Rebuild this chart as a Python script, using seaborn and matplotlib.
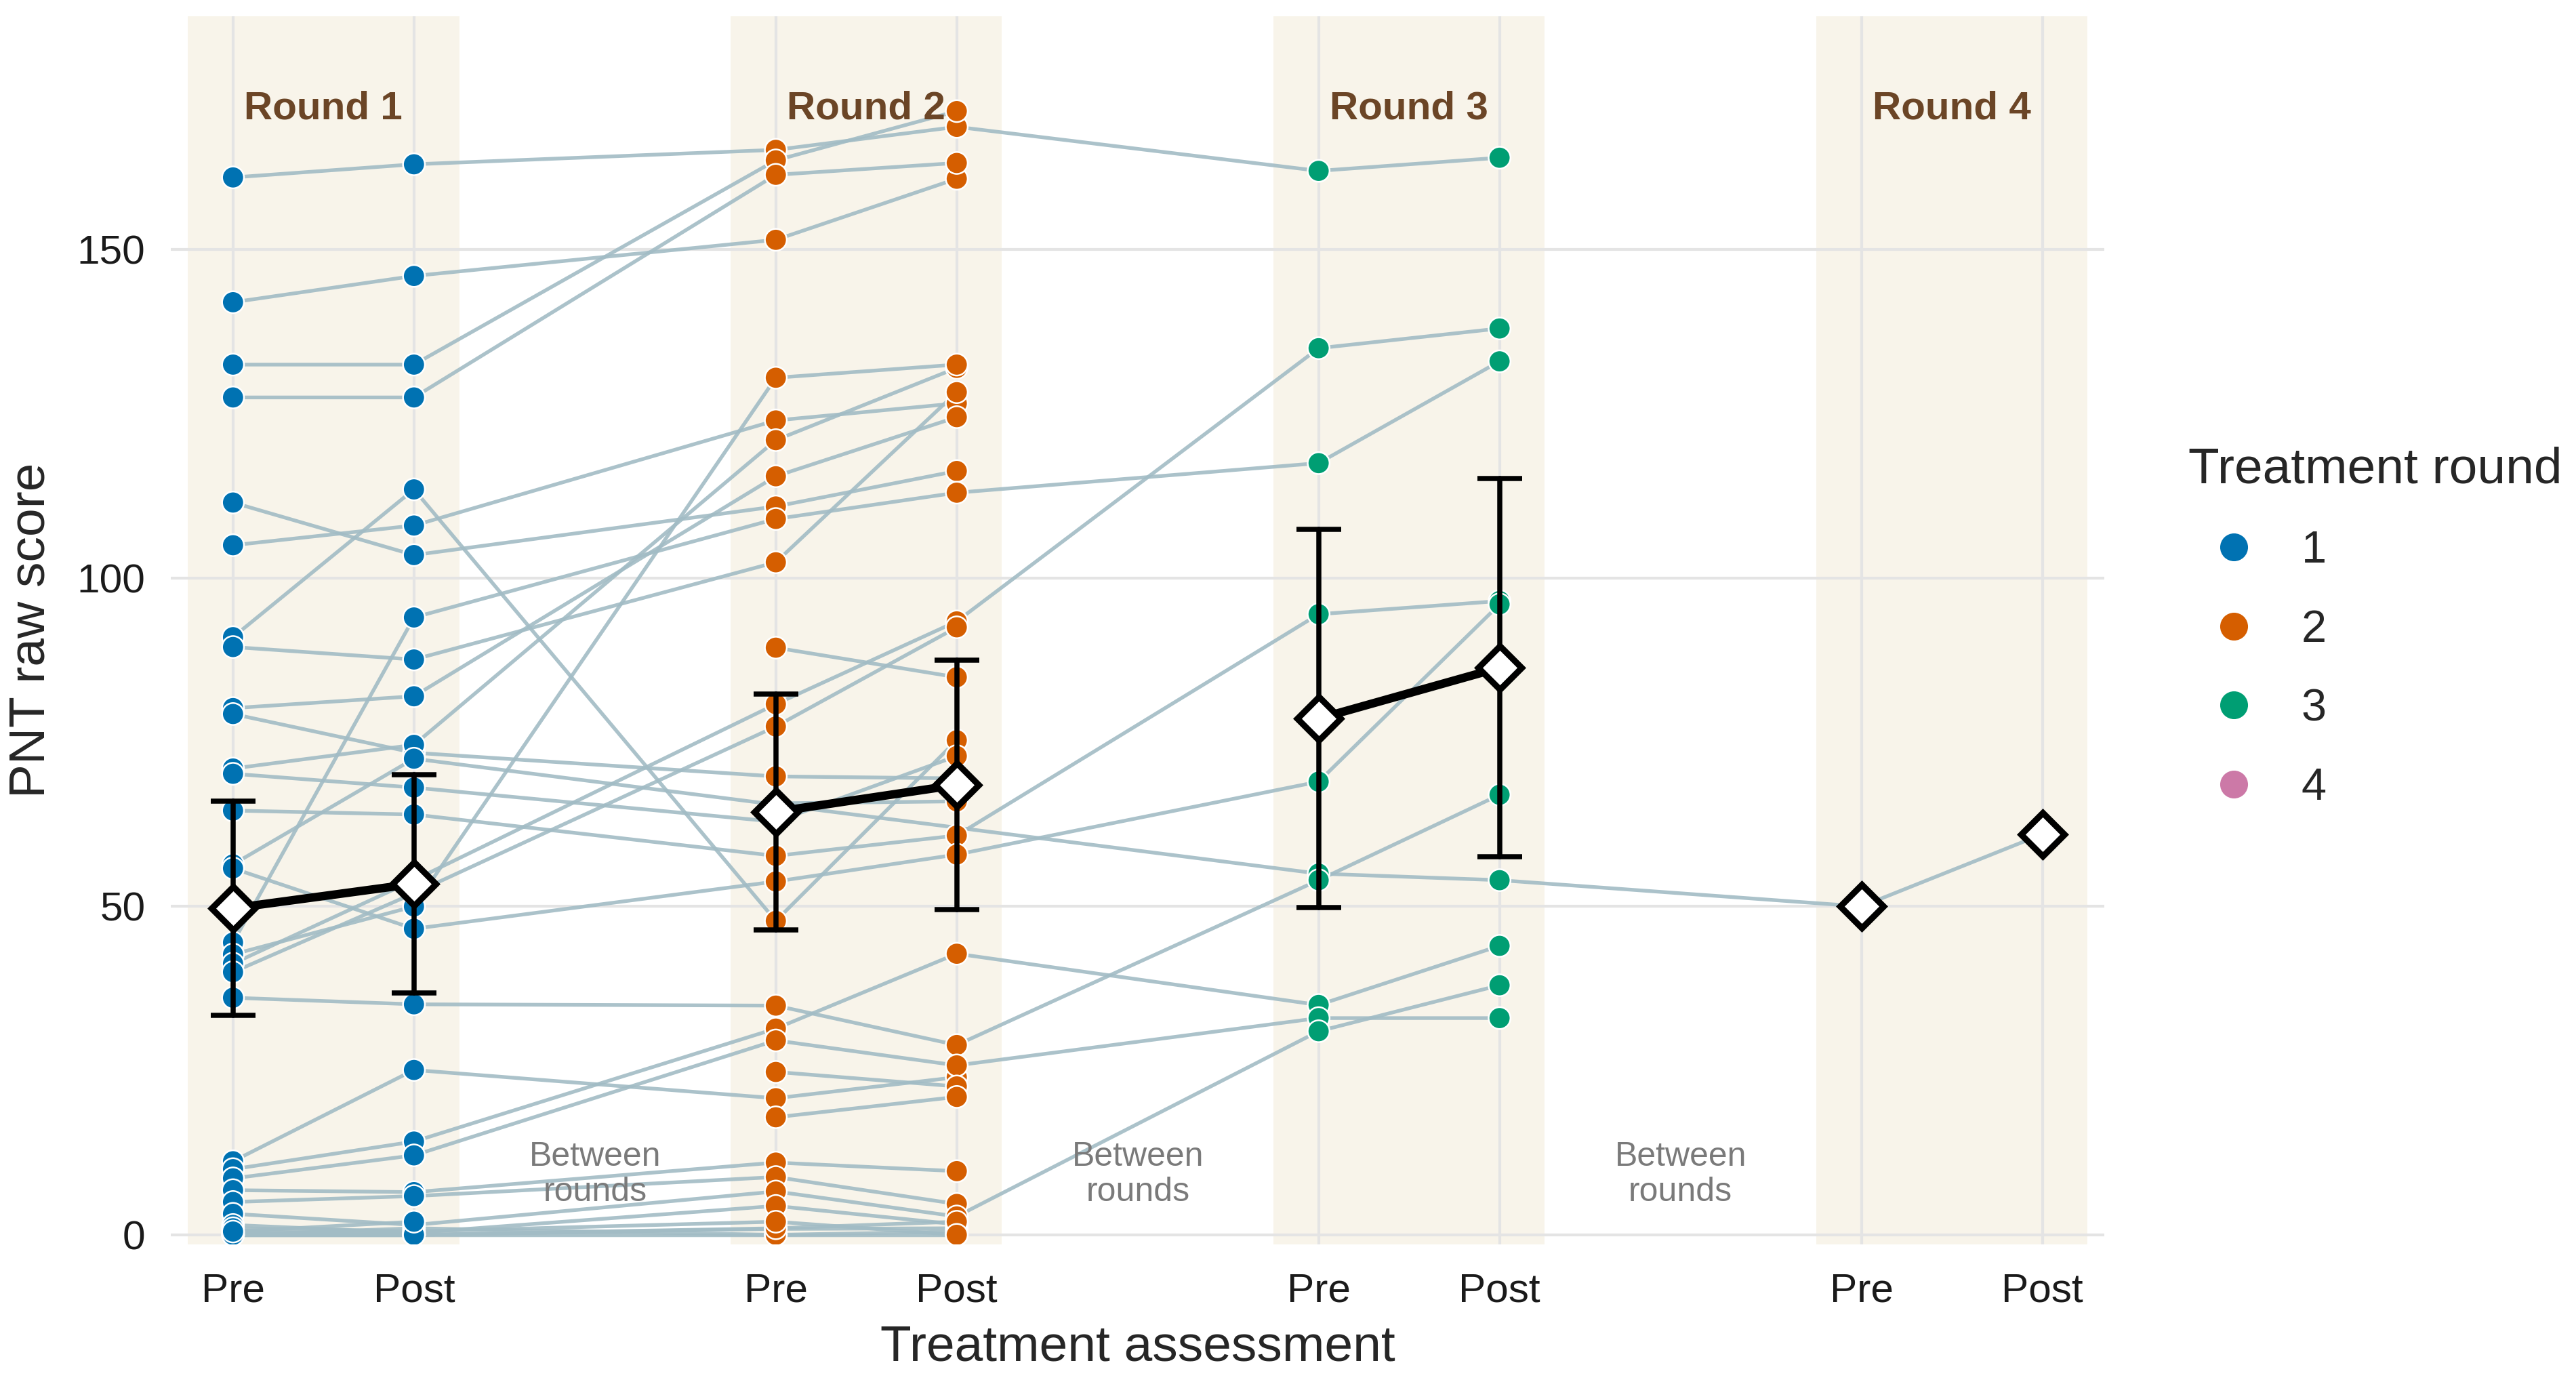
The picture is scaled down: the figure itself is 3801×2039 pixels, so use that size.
import numpy as np
import pandas as pd
import seaborn as sns
import matplotlib.pyplot as plt

nan = np.nan

# PNT raw scores per participant (one position per participant), NaN = not assessed
r1_pre = [161, 142, 132.5, 127.5, 111.5, 105, 91, 89.5, 80.2, 79.3, 71, 70.2, 64.6, 56.4,
          55.8, 44.5, 42.7, 41.3, 40, 36.1, 11.2, 10, 8.6, 6.8, 5, 3.2, 1.5, 0.3, 0, 0,
          0.5, 1, 0, 0.5, nan, nan, nan, nan]
r1_post = [163, 146, 132.5, 127.5, 103.5, 108, 113.5, 87.6, 82, 73.4, 74.6, 68.1, 64, 72.5,
           46.6, 94, 50, 54, 52, 35.1, 25.1, 14.2, 12.1, 6.5, 5.9, 1.5, 0.3, 0, 0, 1,
           0, 0.5, 0, 2, nan, nan, nan, nan]
r2_pre = [165.2, 151.5, 163.6, 161.4, 110.9, 124, 47.8, 102.4, 115.5, 69.8, 121, 62.9, 57.7, nan,
          53.8, 109, 130.5, 80.8, 77.4, 34.9, 20.8, 31.4, 29.6, 11, 8.8, 6.6, 4.4, 0.9, 0, 0,
          1, 2, nan, nan, 89.4, 65.7, 24.8, 17.9]
r2_post = [168.7, 160.8, 171.1, 163.2, 116.3, 126.6, 75.3, 128.3, 124.5, 69.5, 132, 72.9, 60.8, nan,
           57.9, 113, 132.5, 93.4, 92.5, 28.9, 24, 42.8, 25.8, 9.7, 4.7, 2.8, 1.6, 1, 0, 0.5,
           2, 0, nan, nan, 84.9, 66, 22.6, 21]
r3_pre = [162, nan, nan, nan, nan, nan, nan, nan, nan, nan, nan, nan, 94.5, 55,
          69, 117.5, nan, 135, nan, 54, nan, 35, 33, nan, nan, 31, nan, nan, nan, nan,
          nan, nan, nan, nan, nan, nan, nan, nan]
r3_post = [164, nan, nan, nan, nan, nan, nan, nan, nan, nan, nan, nan, 96.5, 54,
           96, 133, nan, 138, nan, 67, nan, 44, 33, nan, nan, 38, nan, nan, nan, nan,
           nan, nan, nan, nan, nan, nan, nan, nan]
r4_pre = [nan] * 13 + [50] + [nan] * 24
r4_post = [nan] * 13 + [61] + [nan] * 24

rounds = ['1', '2', '3', '4']
phase_labels = ['Pre', 'Post']
round_colors = ['#0072B2', '#D55E00', '#009E73', '#CC79A7']

columns = [(1, 0, r1_pre), (1, 1, r1_post), (2, 0, r2_pre), (2, 1, r2_post),
           (3, 0, r3_pre), (3, 1, r3_post), (4, 0, r4_pre), (4, 1, r4_post)]

rows = []
for pid in range(len(r1_pre)):
    for rnd, ph, values in columns:
        v = values[pid]
        if not np.isnan(v):
            rows.append({'pid': pid, 'round': str(rnd), 'x': 3 * (rnd - 1) + ph, 'score': v})
df = pd.DataFrame(rows)

sns.set_theme(style='white')
plt.rcParams['font.family'] = ['Liberation Sans', 'DejaVu Sans']

fig = plt.figure(figsize=(12.67, 6.797), dpi=300)
ax = fig.add_axes([0.0663, 0.0996, 0.7507, 0.8884])

# shaded treatment rounds
for i in range(4):
    ax.axvspan(3 * i - 0.25, 3 * i + 1.25, color='#F8F4EA', lw=0, zorder=0)

# individual trajectories
sns.lineplot(data=df, x='x', y='score', units='pid', estimator=None,
             color='#A2BCC5', lw=1.3, alpha=0.9, zorder=2, ax=ax, legend=False)

# individual scores
sns.scatterplot(data=df, x='x', y='score', hue='round', hue_order=rounds,
                palette=dict(zip(rounds, round_colors)), s=60,
                edgecolor='white', linewidth=0.6, zorder=3, ax=ax)

# group means with 95% CI (a lone participant in round 4 gets no line)
mean_kws = dict(x='x', y='score', hue='round', estimator='mean',
                errorbar=('se', 1.96), err_style='bars', marker='D', markersize=11,
                markerfacecolor='white', markeredgecolor='black', mew=2.2,
                err_kws={'capsize': 8, 'elinewidth': 1.8, 'capthick': 1.8, 'zorder': 4},
                zorder=5, ax=ax, legend=False)
sns.lineplot(data=df[df['round'] != '4'], palette={r: 'black' for r in rounds[:3]},
             lw=3, **mean_kws)
sns.lineplot(data=df[df['round'] == '4'], palette={'4': 'black'}, ls='none', **mean_kws)

for i in range(4):
    ax.text(3 * i + 0.5, 171.5, f'Round {i + 1}', ha='center', va='center',
            fontsize=14, fontweight='bold', color='#6B4526', zorder=6)
for i in range(3):
    ax.text(3 * i + 2, 9.2, 'Between\nrounds', ha='center', va='center',
            fontsize=12, color='#7A7A7A', linespacing=1.15, zorder=6)

ax.set_xlim(-0.344, 10.344)
ax.set_ylim(-1.45, 185.5)
ax.set_xticks([0, 1, 3, 4, 6, 7, 9, 10])
ax.set_xticklabels(phase_labels * 4)
ax.set_yticks([0, 50, 100, 150])
ax.tick_params(axis='both', length=0, labelsize=14.5, colors='#1A1A1A')
ax.tick_params(axis='x', pad=10)
ax.tick_params(axis='y', pad=9)
ax.set_axisbelow(True)
ax.grid(True, color='#E4E4E4', lw=1)
for sp in ax.spines.values():
    sp.set_visible(False)
ax.set_xlabel('Treatment assessment', fontsize=18, labelpad=5)
ax.set_ylabel('PNT raw score', fontsize=18, labelpad=8)

handles, labels = ax.get_legend_handles_labels()
ax.get_legend().remove()
fig.legend(handles, labels, title='Treatment round', loc='upper left',
           bbox_to_anchor=(0.8425, 0.69), frameon=False, fontsize=16,
           title_fontsize=18, markerscale=1.35, labelspacing=0.82,
           handletextpad=0.5, alignment='left', borderaxespad=0)

fig.savefig('out.png', dpi=300)
